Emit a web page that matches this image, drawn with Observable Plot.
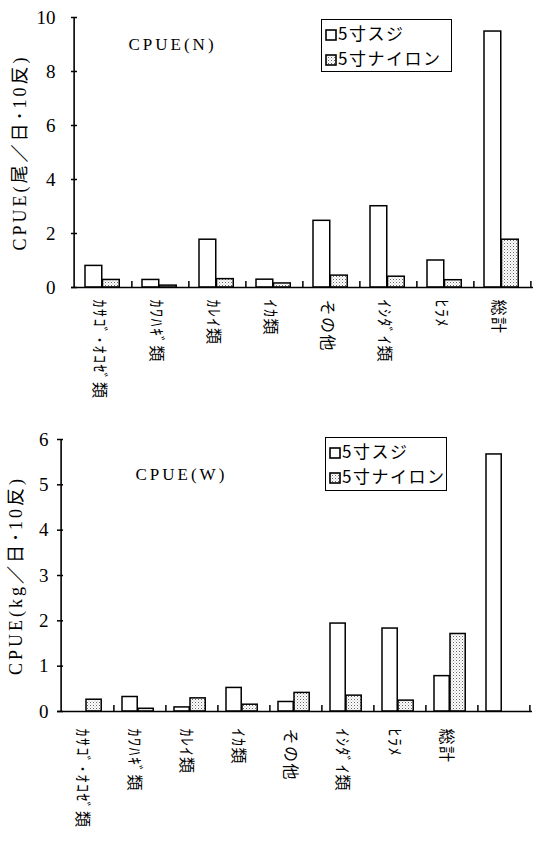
<!DOCTYPE html>
<html><head><meta charset="utf-8">
<script src="https://cdn.jsdelivr.net/npm/d3@7"></script>
<script src="https://cdn.jsdelivr.net/npm/@observablehq/plot@0.6"></script>
<style>
body{margin:0;background:#fff;width:534px;height:844px;overflow:hidden;}
.chart{position:relative;width:534px;}
.chart svg{display:block;}
.legend{position:absolute;border:1px solid #000;background:#fff;font-family:"Noto Sans CJK JP";font-size:17px;line-height:25px;padding:0 0 0 3px;box-sizing:border-box;letter-spacing:1.5px;}
.legend svg{display:inline-block;vertical-align:-1px;margin-right:1px;}
</style></head><body>
<svg width="0" height="0" style="position:absolute"><defs>
<pattern id="dots" width="3" height="3" patternUnits="userSpaceOnUse"><rect width="3" height="3" fill="#fff"/><rect width="1" height="1" fill="#666"/><rect x="1.5" y="1.5" width="1" height="1" fill="#aaa"/></pattern>
</defs></svg>
<div id="chartTop" class="chart"></div>
<div id="chartBot" class="chart"></div>
<script>
const categoriesN = ["ｶｻｺﾞ･ｵｺｾﾞ類","ｶﾜﾊｷﾞ類","ｶﾚｲ類","ｲｶ類","その他","ｲｼﾀﾞｲ類","ﾋﾗﾒ","総計"];
const sujiN  = [0.80, 0.28, 1.77, 0.29, 2.47, 3.01, 1.00, 9.48];
const nylonN = [0.28, 0.07, 0.31, 0.15, 0.44, 0.40, 0.27, 1.77];
const categoriesW = ["ｶｻｺﾞ･ｵｺｾﾞ類","ｶﾜﾊｷﾞ類","ｶﾚｲ類","ｲｶ類","その他","ｲｼﾀﾞｲ類","ﾋﾗﾒ","総計",""];
const sujiW  = [null, 0.32, 0.09, 0.52, 0.21, 1.94, 1.83, 0.78, 5.67];
const nylonW = [0.26, 0.06, 0.29, 0.15, 0.41, 0.35, 0.24, 1.71, null];
const ticksN = [0, 2, 4, 6, 8, 10];
const ticksW = [0, 1, 2, 3, 4, 5, 6];
const seriesNames = ["5寸スジ", "5寸ナイロン"];

function makeChart(o) {
  const W = 534;
  const bw = (W - o.ml - o.mr) / o.cats.length;
  const rows = o.cats.map((c, i) => ({c, suji: o.suji[i], nylon: o.nylon[i]}));
  const svg = Plot.plot({
    width: W, height: o.H,
    marginTop: o.mt, marginBottom: o.mb, marginLeft: o.ml, marginRight: o.mr,
    style: {fontFamily: "'Liberation Serif', 'Noto Sans CJK JP'", fontSize: "17px", color: "#000", background: "#fff", overflow: "visible"},
    x: {domain: o.cats, padding: 0, label: null},
    y: {domain: [0, o.yMax], label: null},
    marks: [
      Plot.barY(rows.filter(d => d.suji != null), {x: "c", y: "suji", fill: "#fff", stroke: "#000", strokeWidth: 1.5,
        insetLeft: o.padL, insetRight: bw - o.padL - o.barW}),
      Plot.barY(rows.filter(d => d.nylon != null), {x: "c", y: "nylon", fill: "url(#dots)", stroke: "#000", strokeWidth: 1.5,
        insetLeft: o.padL + o.barW, insetRight: bw - o.padL - 2 * o.barW}),
      Plot.ruleY([0], {stroke: "#000", strokeWidth: 1.6}),
      Plot.ruleX([o.cats[0]], {y1: 0, y2: o.yMax, dx: -bw / 2, stroke: "#000", strokeWidth: 1.6}),
      Plot.ruleY(o.ticks, {insetRight: W - o.ml - o.mr - 6, stroke: "#000", strokeWidth: 1.5}),
      Plot.ruleX(o.cats, {y1: 0, y2: o.tickLen, dx: bw / 2, stroke: "#000", strokeWidth: 1.5}),
      Plot.axisY({ticks: o.ticks, tickFormat: d => String(d), tickSize: 0, tickPadding: o.yPad, label: null, fontSize: 19}),
      Plot.axisY({ticks: [], label: o.yLabel, labelAnchor: "center", labelOffset: o.labelOffset, labelArrow: "none", fontSize: 18}),
      Plot.axisX({tickSize: 0, tickRotate: 90, tickPadding: o.xPad, label: null, fontFamily: "'Noto Sans CJK JP'", fontSize: 16, dx: o.xdx}),
      Plot.text([o.title], {frameAnchor: "top-left", dx: o.titleX - o.ml, dy: o.titleY - o.mt, textAnchor: "start", lineAnchor: "middle", fontSize: 17})
    ]
  });
  d3.select(svg).selectAll("text").filter(function(){ return /CPUE/.test(this.textContent); }).style("letter-spacing", "3px");
  d3.select(svg).selectAll("text").filter(function(){ return /[ｱ-ﾝ類他計]/.test(this.textContent); }).style("letter-spacing", "1.5px");
  return svg;
}

function legendBox(left, topPx, w, h) {
  const div = document.createElement("div");
  div.className = "legend";
  Object.assign(div.style, {left: left + "px", top: topPx + "px", width: w + "px", height: h + "px"});
  const sw = fill => `<svg width="12" height="12"><rect x="1" y="1" width="10" height="10" fill="${fill}" stroke="#000" stroke-width="1.6"/></svg>`;
  div.innerHTML = `<div>${sw("#fff")}${seriesNames[0]}</div><div>${sw("url(#dots)")}${seriesNames[1]}</div>`;
  return div;
}

const elTop = document.getElementById("chartTop");
elTop.appendChild(makeChart({
  cats: categoriesN, suji: sujiN, nylon: nylonN, yMax: 10, ticks: ticksN,
  H: 420, mt: 17, mb: 133, ml: 71, mr: 1, padL: 11, barW: 17.5, tickLen: 0.22,
  yPad: 16, xPad: 12, xdx: -4, labelOffset: 58, yLabel: "CPUE(尾／日･10反)",
  title: "CPUE(N)", titleX: 128, titleY: 44
}));
elTop.appendChild(legendBox(321, 19, 131, 53));

const elBot = document.getElementById("chartBot");
elBot.appendChild(makeChart({
  cats: categoriesW, suji: sujiW, nylon: nylonW, yMax: 6, ticks: ticksW,
  H: 424, mt: 19, mb: 133, ml: 57, mr: 2, padL: 9, barW: 16, tickLen: 0.13,
  yPad: 9, xPad: 17, xdx: -5, labelOffset: 48, yLabel: "CPUE(kg／日･10反)",
  title: "CPUE(W)", titleX: 135, titleY: 54
}));
elBot.appendChild(legendBox(325, 17, 122, 54));
</script>
</body></html>
